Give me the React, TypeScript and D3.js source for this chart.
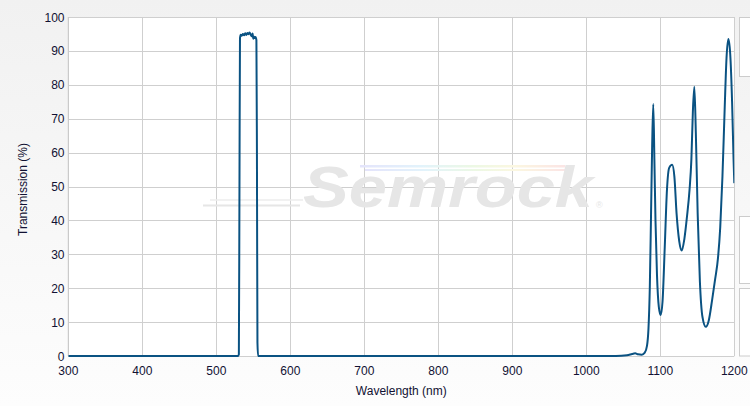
import React from "react";
import * as d3 from "d3";

const W = 750;
const H = 406;

const xTicks = [300, 400, 500, 600, 700, 800, 900, 1000, 1100, 1200];
const yTicks = [0, 10, 20, 30, 40, 50, 60, 70, 80, 90, 100];

// Passband region
const bandNm = [300, 529.5, 530.5, 531.3, 532, 533, 534.5, 536, 537.5, 539, 540.5, 542, 543.5, 545, 546.5, 548, 549, 550, 551, 552, 553, 554.2, 554.9, 555.6, 556.5, 560];
const bandT = [0, 0, 0.5, 50, 93.8, 94.8, 94.5, 95, 94.6, 95.2, 94.7, 95.3, 94.9, 95.4, 94.8, 94.3, 95.1, 93.6, 94.2, 93.8, 94.1, 93.2, 60, 4, 0, 0];

// Long-wavelength region
const redNm = [560, 1040, 1055, 1062, 1066, 1070, 1075, 1079, 1082, 1084, 1085.8, 1087.5, 1089, 1090.5, 1092, 1093.5, 1095.5, 1098, 1100.5, 1103, 1106, 1109, 1112, 1116, 1119, 1122, 1125.5, 1129, 1132.5, 1136, 1139.5, 1142, 1144, 1146, 1148, 1150.5, 1153.5, 1157, 1161.5, 1165.5, 1170, 1174, 1178, 1181, 1184, 1187, 1189.5, 1192, 1194.5, 1197, 1199, 1200];
const redT = [0, 0, 0.2, 0.6, 0.8, 0.5, 0.4, 1, 3, 8, 20, 42, 62, 74.3, 58, 40, 24, 14.5, 12.1, 16, 32, 49, 55.5, 56.4, 53, 42, 34, 31.1, 34.5, 41, 49, 58, 72, 79.4, 66, 42, 22, 11.5, 8.6, 10.5, 16.5, 22.5, 29, 38, 53, 73, 88, 93.5, 89, 75, 58, 51];

const plot = { left: 68.3, right: 734.3, top: 17, bottom: 356 };

export default function App() {
  const x = d3.scaleLinear().domain([300, 1200]).range([plot.left, plot.right]);
  const y = d3.scaleLinear().domain([0, 100]).range([plot.bottom, plot.top]);

  const pts: [number, number][] = [];
  bandNm.forEach((n, i) => pts.push([n, bandT[i]]));
  redNm.forEach((n, i) => { if (i > 0) pts.push([n, redT[i]]); });

  const line = d3
    .line<[number, number]>()
    .x((d) => x(d[0]))
    .y((d) => y(d[1]))
    .curveMonotoneX ? undefined : undefined;
  const lineGen = d3
    .line<[number, number]>()
    .x((d) => x(d[0]))
    .y((d) => y(d[1]))
    .curve(d3.curveMonotoneX);
  void line;
  const path = lineGen(pts) || "";

  const font = "'Liberation Sans', Arial, sans-serif";

  return (
    <svg
      width={W}
      height={H}
      style={{ position: "absolute", left: 0, top: 0 }}
      xmlns="http://www.w3.org/2000/svg"
    >
      <defs>
        <linearGradient id="bg" x1="0" y1="0" x2="0" y2="1">
          <stop offset="0" stopColor="#f1f1f1" />
          <stop offset="1" stopColor="#fdfdfd" />
        </linearGradient>
        <linearGradient id="rainbow" x1="0" y1="0" x2="1" y2="0">
          <stop offset="0" stopColor="#e4e4fb" />
          <stop offset="0.3" stopColor="#e2f3fb" />
          <stop offset="0.55" stopColor="#ecf8e4" />
          <stop offset="0.75" stopColor="#fbf7e0" />
          <stop offset="1" stopColor="#fbe4e4" />
        </linearGradient>
        <clipPath id="clip">
          <rect x={plot.left} y={plot.top - 2} width={plot.right - plot.left} height={plot.bottom - plot.top + 4} />
        </clipPath>
      </defs>
      <rect x={0} y={0} width={W} height={H} fill="url(#bg)" />
      <rect x={plot.left} y={plot.top} width={plot.right - plot.left} height={plot.bottom - plot.top} fill="#ffffff" />

      {/* right side panels */}
      <rect x={739.5} y={17.5} width={14} height={59} fill="#ffffff" stroke="#cccccc" />
      <rect x={739.5} y={216.5} width={14} height={67} fill="#ffffff" stroke="#cccccc" />
      <rect x={739.5} y={288.5} width={14} height={67.5} fill="#ffffff" stroke="#cccccc" />

      {/* grid */}
      {yTicks.map((t) => (
        <line key={"gy" + t} x1={plot.left} x2={plot.right} y1={Math.round(y(t)) + 0.5} y2={Math.round(y(t)) + 0.5} stroke="#cfcfcf" />
      ))}
      {xTicks.map((t) => (
        <line key={"gx" + t} x1={Math.round(x(t)) + 0.5} x2={Math.round(x(t)) + 0.5} y1={plot.top} y2={plot.bottom} stroke="#cfcfcf" />
      ))}

      {/* watermark */}
      <g opacity={1}>
        <rect x={360} y={165} width={205} height={2.5} fill="url(#rainbow)" />
        <rect x={365} y={169} width={200} height={2} fill="url(#rainbow)" />
        <path d="M 203 205.5 L 300 205.5" stroke="#e6e6e6" strokeWidth={2} />
        <path d="M 210 200 L 303 200" stroke="#ececec" strokeWidth={1.5} />
        <text
          x={303}
          y={207}
          fontFamily={font}
          fontWeight="bold"
          fontStyle="italic"
          fontSize={57}
          fill="#e6e6e6"
          textLength={290}
          lengthAdjust="spacingAndGlyphs"
        >
          Semrock
        </text>
        <text x={596} y={208} fontFamily={font} fontSize={9} fill="#e6e6e6">®</text>
      </g>

      {/* axis line */}
      <line x1={plot.left} x2={plot.left} y1={plot.top} y2={plot.bottom} stroke="#c8c8c8" />

      {/* data */}
      <path d={path} fill="none" stroke="#0a5282" strokeWidth={2} strokeLinejoin="round" clipPath="url(#clip)" />

      {/* y ticks */}
      {yTicks.map((t) => (
        <text key={"ty" + t} x={64.5} y={y(t) + 4.5} textAnchor="end" fontFamily={font} fontSize={12} fill="#111133">
          {t}
        </text>
      ))}
      {/* x ticks */}
      {xTicks.map((t) => (
        <text key={"tx" + t} x={x(t)} y={375} textAnchor="middle" fontFamily={font} fontSize={12} fill="#111133">
          {t}
        </text>
      ))}

      <text x={(plot.left + plot.right) / 2} y={395} textAnchor="middle" fontFamily={font} fontSize={12} fill="#111133">
        Wavelength (nm)
      </text>
      <text
        transform={`translate(26.5, ${(plot.top + plot.bottom) / 2 + 3}) rotate(-90)`}
        textAnchor="middle"
        fontFamily={font}
        fontSize={12}
        fill="#111133"
      >
        Transmission (%)
      </text>
    </svg>
  );
}
